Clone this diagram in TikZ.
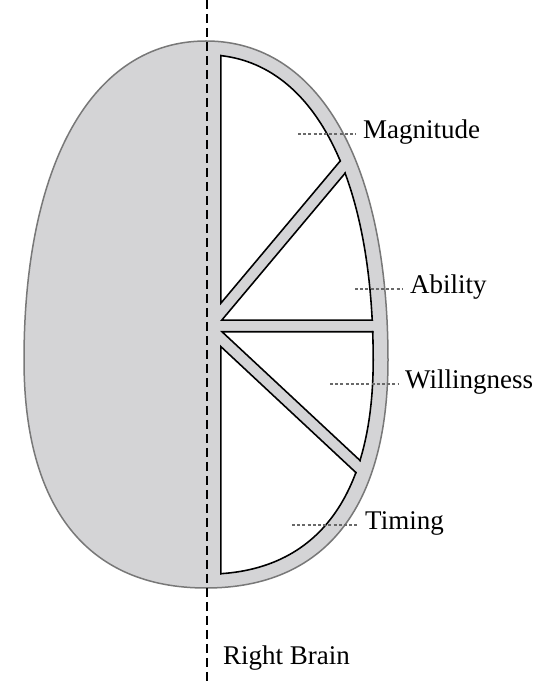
\documentclass[tikz,border=0pt]{standalone}
\usepackage{fontspec}
\setmainfont{Liberation Serif}
\usepackage{tikz}
\usetikzlibrary{calc}

\definecolor{eggfill}{RGB}{212,212,214}
\definecolor{eggline}{RGB}{120,120,120}
\definecolor{leadgray}{RGB}{105,105,105}

% egg outlines (x = 1pt, y = 1pt)
\newcommand{\outerEgg}{(206,642) .. controls (318.8,642) and (388,520.8) .. (388,323) .. controls (388,174.8) and (324.3,95) .. (206,95) .. controls (87.7,95) and (24,174.8) .. (24,323) .. controls (24,520.8) and (93.2,642) .. (206,642) -- cycle}
\newcommand{\innerEgg}{(206,629) .. controls (310.2,629) and (374,512.7) .. (374,323) .. controls (374,183.25) and (315.2,108) .. (206,108) .. controls (96.8,108) and (38,183.25) .. (38,323) .. controls (38,512.7) and (101.8,629) .. (206,629) -- cycle}

% the four wedges
\newcommand{\wedgeMag}{(220,700) -- (h1) -- ($(h1)+(50:500)$) -- cycle}
\newcommand{\wedgeAbi}{(h2) -- ($(h2)+(50:500)$) -- (700,362) -- cycle}
\newcommand{\wedgeWil}{(h3) -- (700,352) -- ($(h3)+(-43:600)$) -- cycle}
\newcommand{\wedgeTim}{(h4) -- ($(h4)+(-43:600)$) -- (220,-100) -- cycle}

\begin{document}
\begin{tikzpicture}[x=1pt,y=1pt,
  egg/.style={fill=eggfill,draw=eggline,line width=1.5pt},
  rim/.style={draw=black,line width=3.2pt},
  lbl/.style={anchor=west,inner xsep=7pt,inner ysep=0pt,text height=0.9em,text depth=0pt,font=\fontsize{27}{30}\selectfont},
  leader/.style={draw=leadgray,line width=1.1pt,dash pattern=on 3pt off 2.2pt},
  midline/.style={line width=2.6pt,dash pattern=on 9pt off 5pt}]

\useasboundingbox[fill=white] (0,0) rectangle (541,683);

\path[egg] \outerEgg;

\coordinate (h1) at (220,377.5);
\coordinate (h2) at (220,362);
\coordinate (h3) at (220,352);
\coordinate (h4) at (220,338.3);

\foreach \w in {\wedgeMag,\wedgeAbi,\wedgeWil,\wedgeTim}{
\begin{scope}
\clip \w;
\clip \innerEgg;
\fill[white] (0,0) rectangle (541,683);
\draw[rim] \w;
\draw[rim] \innerEgg;
\end{scope}
}

\node[lbl] (mag) at (356,549) {Magnitude};
\node[lbl] (abi) at (403,394) {Ability};
\node[lbl] (wil) at (398,299) {Willingness};
\node[lbl] (tim) at (358,158) {Timing};
\node[font=\fontsize{27}{30}\selectfont,anchor=base west,inner sep=0pt] (rb) at (223,18) {Right Brain};

\coordinate (mag-in) at (298,549);
\coordinate (abi-in) at (355,394);
\coordinate (wil-in) at (330,299);
\coordinate (tim-in) at (292,158);
\draw[leader] (mag-in) -- (mag);
\draw[leader] (abi-in) -- (abi);
\draw[leader] (wil-in) -- (wil);
\draw[leader] (tim-in) -- (tim);

\coordinate (ax-top) at (207,683);
\coordinate (ax-bot) at (207,0);
\draw[midline] (ax-top) -- (ax-bot);
\end{tikzpicture}
\end{document}
